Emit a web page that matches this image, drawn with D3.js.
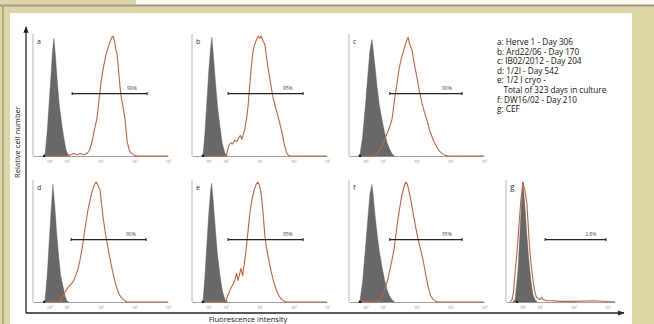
<!DOCTYPE html>
<html><head><meta charset="utf-8">
<script src="https://cdn.jsdelivr.net/npm/d3@7"></script>
<style>html,body{margin:0;padding:0;background:#dcd6a5;}svg{display:block;}</style>
</head><body><svg id="c" width="654" height="324"></svg>
<script>
// ---------- DATA (x in log10 decades, y in % of peak) ----------
const panelIds = ["a","b","c","d","e","f","g"];
const gateLabels = ["99%","95%","90%","90%","95%","95%","2,8%"];
const gateStart = [1.16,1.07,1.21,1.13,1.07,1.21,1.16];
const gateEnd   = [3.38,3.29,3.35,3.35,3.29,3.35,2.96];
const tickValues = [0.48,1,2,3,4];
const tickLabels = ["10\u2070","10\u00b9","10\u00b2","10\u00b3","10\u2074"];
const legendLines = ["a: Herve 1 - Day 306","b: Ard22/06 - Day 170","c: IB02/2012 - Day 204","d: 1/2I - Day 542","e: 1/2 I cryo -","   Total of 323 days in culture","f: DW16/02 - Day 210","g: CEF"];

const grayA = [[0.30,0],[0.36,2],[0.42,20],[0.48,45],[0.54,70],[0.58,88],[0.62,98],[0.66,85],[0.72,62],[0.78,42],[0.86,25],[0.92,14],[0.98,5],[1.04,1],[1.1,0]];
const orangeA = [[0.3,0],[1.0,0],[1.1,1],[1.2,2],[1.3,1],[1.4,2],[1.5,1],[1.6,2],[1.68,5],[1.75,12],[1.82,22],[1.9,32],[1.95,45],[2.0,58],[2.05,68],[2.1,76],[2.16,84],[2.22,90],[2.28,95],[2.34,99],[2.37,100],[2.42,95],[2.46,88],[2.49,85],[2.54,70],[2.58,57],[2.62,48],[2.66,42],[2.73,30],[2.79,12],[2.86,4],[2.93,2],[3.0,0.5],[3.1,0],[4,0]];
const grayB = [[0.28,0],[0.33,2],[0.38,18],[0.44,45],[0.5,72],[0.55,90],[0.59,99],[0.63,85],[0.7,60],[0.76,40],[0.84,22],[0.9,10],[0.98,2],[1.05,0]];
const orangeB = [[0.3,0],[1.0,0],[1.04,3],[1.1,9],[1.15,11],[1.2,10],[1.27,13],[1.33,12],[1.38,15],[1.43,17],[1.48,14],[1.52,18],[1.57,23],[1.62,32],[1.66,41],[1.7,55],[1.75,72],[1.81,88],[1.86,93],[1.9,96],[1.96,100],[2.01,98],[2.05,100],[2.1,96],[2.16,93],[2.2,84],[2.25,74],[2.32,62],[2.4,49],[2.48,40],[2.55,33],[2.62,25],[2.67,19],[2.72,12],[2.76,7],[2.8,3],[2.84,1],[2.9,0],[4,0]];
const grayC = [[0.28,0],[0.33,2],[0.4,15],[0.48,40],[0.56,68],[0.62,88],[0.68,97],[0.72,88],[0.78,72],[0.83,58],[0.9,42],[0.98,30],[1.05,20],[1.13,11],[1.2,6],[1.27,2],[1.35,0]];
const orangeC = [[0.3,0],[0.75,0],[0.83,2],[0.9,5],[0.98,8],[1.05,13],[1.13,19],[1.2,24],[1.27,30],[1.32,40],[1.36,49],[1.42,60],[1.48,72],[1.54,80],[1.6,86],[1.66,92],[1.72,97],[1.75,99],[1.8,93],[1.87,88],[1.94,76],[2.01,66],[2.08,55],[2.16,44],[2.23,37],[2.31,30],[2.38,22],[2.46,16],[2.53,11],[2.61,7],[2.68,4],[2.76,2],[2.85,0.5],[2.95,0],[4,0]];
const grayD = [[0.30,0],[0.36,2],[0.42,22],[0.48,50],[0.54,78],[0.59,98],[0.64,82],[0.7,58],[0.76,38],[0.82,22],[0.89,13],[0.95,5],[1.0,1],[1.06,0]];
const orangeD = [[0.3,0],[0.8,0],[0.89,5],[0.96,9],[1.04,12],[1.1,14],[1.19,17],[1.25,21],[1.33,27],[1.4,36],[1.45,44],[1.5,53],[1.54,61],[1.59,70],[1.63,77],[1.7,86],[1.75,92],[1.81,97],[1.87,100],[1.93,97],[1.99,93],[2.03,82],[2.07,72],[2.13,60],[2.19,50],[2.26,39],[2.34,28],[2.42,18],[2.49,11],[2.56,6],[2.64,3],[2.72,1],[2.79,0],[4,0]];
const grayE = [[0.28,0],[0.33,2],[0.38,20],[0.44,48],[0.5,75],[0.55,92],[0.58,99],[0.63,84],[0.7,58],[0.76,38],[0.84,20],[0.9,9],[0.98,2],[1.05,0]];
const orangeE = [[0.3,0],[1.0,0],[1.04,4],[1.1,8],[1.16,12],[1.22,15],[1.28,19],[1.32,24],[1.36,18],[1.4,22],[1.45,28],[1.5,22],[1.54,30],[1.58,38],[1.62,48],[1.67,62],[1.72,75],[1.78,86],[1.84,93],[1.9,98],[1.95,100],[2.0,97],[2.05,90],[2.1,76],[2.15,58],[2.2,46],[2.27,36],[2.34,26],[2.42,17],[2.5,10],[2.58,5],[2.66,2],[2.74,0.5],[2.8,0],[4,0]];
const grayF = [[0.28,0],[0.33,2],[0.4,16],[0.48,42],[0.56,70],[0.62,90],[0.68,98],[0.72,88],[0.78,70],[0.84,55],[0.9,42],[0.98,29],[1.05,19],[1.13,10],[1.2,5],[1.27,2],[1.35,0]];
const orangeF = [[0.3,0],[0.85,0],[0.92,2],[0.98,5],[1.04,9],[1.1,14],[1.16,20],[1.22,28],[1.28,36],[1.33,43],[1.38,54],[1.44,67],[1.5,78],[1.56,88],[1.62,95],[1.68,100],[1.73,98],[1.78,92],[1.84,84],[1.9,74],[1.97,63],[2.04,53],[2.12,44],[2.2,34],[2.28,22],[2.35,12],[2.42,5],[2.5,2],[2.58,0.5],[2.65,0],[4,0]];
const grayG = [[0.2,0],[0.27,2],[0.35,25],[0.4,50],[0.45,80],[0.5,100],[0.56,80],[0.62,55],[0.68,34],[0.74,17],[0.8,6],[0.86,2],[0.92,0]];
const orangeG = [[0.12,0],[0.18,2],[0.22,8],[0.27,25],[0.32,40],[0.36,53],[0.4,70],[0.44,85],[0.5,100],[0.56,93],[0.62,82],[0.68,53],[0.72,38],[0.77,25],[0.82,14],[0.86,8],[0.9,4],[0.95,3],[1.0,2],[1.05,4],[1.1,2],[1.2,1],[1.4,1],[1.6,0.5],[2.0,0.5],[2.6,1],[3.23,0]];

const grays = [grayA,grayB,grayC,grayD,grayE,grayF,grayG];
const oranges = [orangeA,orangeB,orangeC,orangeD,orangeE,orangeF,orangeG];

// ---------- LAYOUT ----------
const svg = d3.select("#c");
const W = 654, H = 324;
svg.append("rect").attr("x",0).attr("y",0).attr("width",W).attr("height",H).attr("fill","#dcd6a5");
svg.append("rect").attr("x",136).attr("y",0).attr("width",W-136).attr("height",5).attr("fill","#fbfaf0");
svg.append("rect").attr("x",10).attr("y",13).attr("width",622).attr("height",H-13).attr("fill","#ffffff");
svg.append("line").attr("x1",0).attr("x2",W).attr("y1",5.5).attr("y2",5.5).attr("stroke","#a6998a").attr("stroke-width",2);
svg.append("line").attr("x1",3).attr("x2",3).attr("y1",5).attr("y2",H).attr("stroke","#b3a48f").attr("stroke-width",2);

const colX = [33,192,349,506];
const rowBase = [156,302];
const panelH = 120;
const decadePx = 33.75;
const FONT = "'Open Sans', 'DejaVu Sans', sans-serif";

const defs = svg.append("defs");
defs.append("marker").attr("id","arr").attr("viewBox","0 0 10 10").attr("refX",9).attr("refY",5)
  .attr("markerWidth",5).attr("markerHeight",5).attr("orient","auto")
  .append("path").attr("d","M0,1 L10,5 L0,9 z").attr("fill","#222");

svg.append("line").attr("x1",26).attr("y1",313).attr("x2",26).attr("y2",27).attr("stroke","#222").attr("stroke-width",1.3).attr("marker-end","url(#arr)");
svg.append("line").attr("x1",26).attr("y1",313).attr("x2",624).attr("y2",313).attr("stroke","#222").attr("stroke-width",1.3).attr("marker-end","url(#arr)");
svg.append("text").attr("transform","translate(20,142) rotate(-90)").attr("text-anchor","middle")
  .attr("font-family",FONT).attr("font-size",7.6).attr("fill","#111").text("Relative cell number");
svg.append("text").attr("x",248).attr("y",322).attr("text-anchor","middle")
  .attr("font-family",FONT).attr("font-size",7.6).attr("fill","#111").text("Fluorescence intensity");

const slots = [[0,0],[1,0],[2,0],[0,1],[1,1],[2,1],[3,1]];
panelIds.forEach((id,i)=>{
  const [c,r] = slots[i];
  const x0 = colX[c], base = rowBase[r];
  const maxDec = id==="g" ? 3.23 : 4;
  const x = d3.scaleLinear().domain([0,maxDec]).range([x0, x0+maxDec*decadePx]);
  const y = d3.scaleLinear().domain([0,100]).range([base, base-panelH]);
  const g = svg.append("g");
  const cid = "clip"+id;
  defs.append("clipPath").attr("id",cid).append("rect").attr("x",x0).attr("y",base-panelH-4).attr("width",maxDec*decadePx).attr("height",panelH+6);
  g.append("line").attr("x1",x0).attr("x2",x0).attr("y1",base).attr("y2",base-panelH-2).attr("stroke","#b5b5b5").attr("stroke-width",1);
  const ax = d3.axisBottom(x).tickValues(tickValues.filter(t=>t<=maxDec)).tickSize(0).tickFormat((d)=>tickLabels[tickValues.indexOf(d)]);
  const axg = g.append("g").attr("transform",`translate(0,${base})`).call(ax);
  axg.select(".domain").attr("stroke","#a0a0a0").attr("stroke-width",1);
  axg.selectAll("text").attr("font-size",4).attr("fill","#777").attr("dy","0.9em").attr("font-family",FONT);
  const area = d3.area().x(d=>x(d[0])).y0(y(0)).y1(d=>y(d[1]));
  g.append("path").datum(grays[i]).attr("d",area).attr("fill","#686868").attr("stroke","#555").attr("stroke-width",0.4).attr("clip-path",`url(#${cid})`);
  const line = d3.line().x(d=>x(d[0])).y(d=>y(d[1]));
  g.append("path").datum(oranges[i]).attr("d",line).attr("fill","none").attr("stroke","#c4643c").attr("stroke-width",1.1).attr("stroke-linejoin","round").attr("clip-path",`url(#${cid})`);
  g.append("rect").attr("x",x(0.33)-1).attr("y",base-1).attr("width",2).attr("height",2).attr("fill","#111");
  const gy = y(52);
  g.append("line").attr("x1",x(gateStart[i])).attr("x2",x(gateEnd[i])).attr("y1",gy).attr("y2",gy).attr("stroke","#222").attr("stroke-width",1.1);
  [gateStart[i],gateEnd[i]].forEach(v=>{
    g.append("line").attr("x1",x(v)).attr("x2",x(v)).attr("y1",gy-1.5).attr("y2",gy+1.5).attr("stroke","#222").attr("stroke-width",1.1);
  });
  g.append("text").attr("x",x(gateEnd[i]-0.45)).attr("y",gy-4).attr("text-anchor","middle")
    .attr("font-family",FONT).attr("font-size",5).attr("fill","#444").text(gateLabels[i]);
  g.append("text").attr("x",x0+4).attr("y",base-panelH+8).attr("font-family",FONT)
    .attr("font-size",id==="g"?8.5:7).attr("fill","#333").text(id);
});

const leg = svg.append("g");
legendLines.forEach((t,i)=>{
  leg.append("text").attr("x",497).attr("y",45+i*9.6).attr("font-family",FONT).attr("font-size",8.2)
    .attr("fill","#111").attr("xml:space","preserve").style("white-space","pre").text(t);
});
</script></body></html>
